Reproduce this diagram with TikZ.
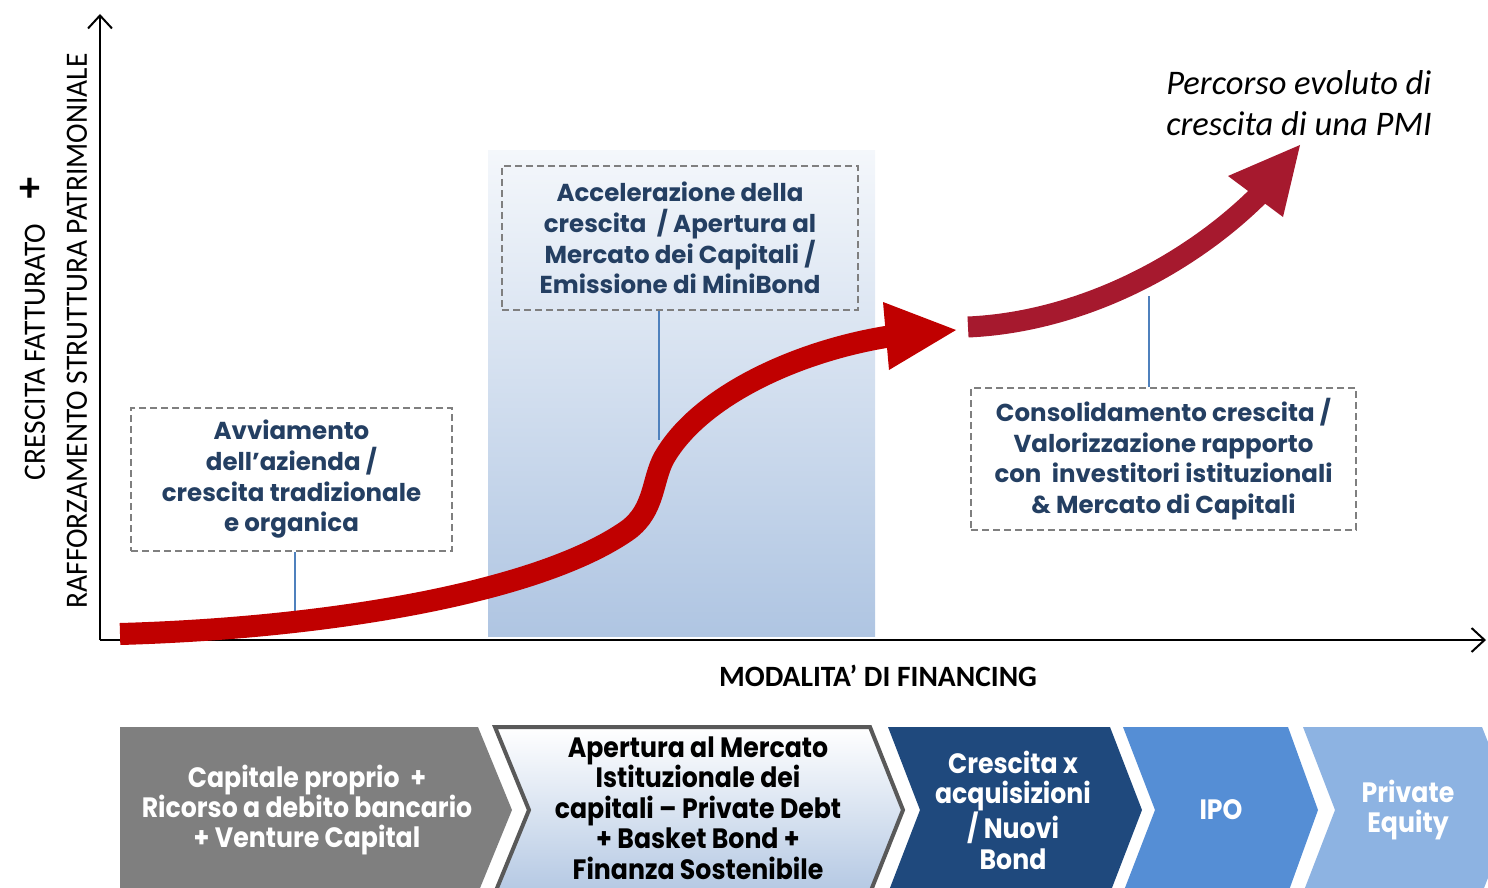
\documentclass[tikz,border=0pt]{standalone}
\usepackage{fontspec}
\setmainfont{Poppins}
\newfontfamily\gothic{Poppins}
\newfontfamily\gothiccond[FakeStretch=0.9]{Poppins}
\newfontfamily\calib{Carlito}
\newfontfamily\calibcond[FakeStretch=0.95]{Carlito}
\usetikzlibrary{arrows.meta}
\definecolor{navytxt}{HTML}{243F62}
\definecolor{dashgray}{HTML}{7F7F7F}
\definecolor{linkblue}{HTML}{4F81BD}
\definecolor{redA}{HTML}{C00000}
\definecolor{redB}{HTML}{A6192E}
\definecolor{chevgray}{HTML}{7F7F7F}
\definecolor{chevnavy}{HTML}{1F497D}
\definecolor{chevmid}{HTML}{558ED5}
\definecolor{chevlight}{HTML}{8DB3E2}
\definecolor{bandtop}{HTML}{F4F7FB}
\definecolor{bandbot}{HTML}{AFC5E2}
\definecolor{chevtwobot}{HTML}{B4C8E3}
\definecolor{chevborder}{HTML}{595959}
\tikzset{
  dbox/.style={draw=dashgray, line width=2pt, dash pattern=on 7pt off 4pt, align=center,
    text=navytxt, font=\gothic\bfseries\fontsize{24.5}{30.7}\selectfont, inner sep=0pt},
  link/.style={draw=linkblue, line width=1.6pt},
  axisline/.style={line width=2pt, -{Straight Barb[length=13pt,width=24pt,line width=2pt]}},
  chevtxt/.style={align=center, font=\gothiccond\bfseries\fontsize{28}{30.4}\selectfont, inner sep=0pt},
  ylabel/.style={rotate=90, font=\calibcond\fontsize{31}{31}\selectfont, inner sep=0pt},
}
\begin{document}
\begin{tikzpicture}[x=1pt,y=-1pt]
\useasboundingbox (0,0) rectangle (1488,888);
\clip (0,0) rectangle (1488,888);
% blue band
\shade[top color=bandtop, bottom color=bandbot] (488,150) rectangle (875,636);
% axes
\coordinate (o) at (100,640);
\coordinate (ytop) at (100,14);
\coordinate (xend) at (1486,640);
\draw[axisline] (o) -- (ytop);
\draw[axisline] (o) -- (xend);
% boxes
\node[dbox, minimum width=321pt, minimum height=143pt] (b1) at (291.5,479.5)
  {Avviamento\\dell’azienda /\\crescita tradizionale\\e organica};
\node[dbox, minimum width=356pt, minimum height=144pt] (b2) at (680,238)
  {Accelerazione della\\crescita \ / Apertura al\\Mercato dei Capitali /\\Emissione di MiniBond};
\node[dbox, minimum width=385pt, minimum height=142pt] (b3) at (1163.5,459)
  {Consolidamento crescita /\\Valorizzazione rapporto\\con \ investitori istituzionali\\\& Mercato di Capitali};
% connectors
\coordinate (c1) at (295,612);
\coordinate (c2) at (659,440);
\coordinate (c3) at (1149,296);
\draw[link] (b1.south -| c1) -- (c1);
\draw[link] (b2.south -| c2) -- (c2);
\draw[link] (b3.north -| c3) -- (c3);
% red arrows
\draw[redA, line width=22pt] (120,634) .. controls (330,628) and (540,592) .. (628,530)
  .. controls (655,510) and (652,480) .. (664,458)
  .. controls (700,395) and (800,350) .. (892,336);
\fill[redA] (883,302) -- (956,330) -- (889,370) -- cycle;
\draw[redB, line width=21pt] (968,327) .. controls (1080,322) and (1190,265) .. (1262,192);
\fill[redB] (1228,176) -- (1300,145) -- (1283,217) -- cycle;
% texts
\node[font=\calib\itshape\fontsize{34.5}{41}\selectfont, align=left] (title) at (1299,103)
  {Percorso evoluto di\\crescita di una PMI};
\node[ylabel] (ylabA) at (35,352) {CRESCITA FATTURATO};
\node[ylabel] (ylabB) at (77,331) {RAFFORZAMENTO STRUTTURA PATRIMONIALE};
\node[font=\calib\bfseries\fontsize{42}{42}\selectfont] (plus) at (30,190) {+};
\node[font=\calib\bfseries\fontsize{29.5}{29.5}\selectfont] (xlab) at (878,676) {MODALITA’ DI FINANCING};
% chevrons
\fill[chevgray] (120,727) -- (478,727) -- (512,810) -- (478,893) -- (120,893) -- cycle;
\path[top color=white, bottom color=chevtwobot, draw=chevborder, line width=4pt]
  (495,727) -- (870,727) -- (903,810) -- (870,893) -- (495,893) -- (529,810) -- cycle;
\fill[chevnavy] (888,727) -- (1110,727) -- (1142,810) -- (1110,893) -- (888,893) -- (920,810) -- cycle;
\fill[chevmid] (1123,727) -- (1288,727) -- (1318,810) -- (1288,893) -- (1123,893) -- (1155,810) -- cycle;
\fill[chevlight] (1303,727) -- (1482,727) -- (1515,810) -- (1482,893) -- (1303,893) -- (1335,810) -- cycle;
\node[chevtxt, text=white] (t1) at (307,810) {Capitale proprio \ +\\Ricorso a debito bancario\\+ Venture Capital};
\node[chevtxt, text=black] (t2) at (698,808) {Apertura al Mercato\\Istituzionale dei\\capitali – Private Debt\\+ Basket Bond +\\Finanza Sostenibile};
\node[chevtxt, text=white] (t3) at (1013,810) {Crescita x\\acquisizioni\\/ Nuovi\\Bond};
\node[chevtxt, text=white] (t4) at (1221,810) {IPO};
\node[chevtxt, text=white] (t5) at (1408,810) {Private\\Equity};
\end{tikzpicture}
\end{document}
